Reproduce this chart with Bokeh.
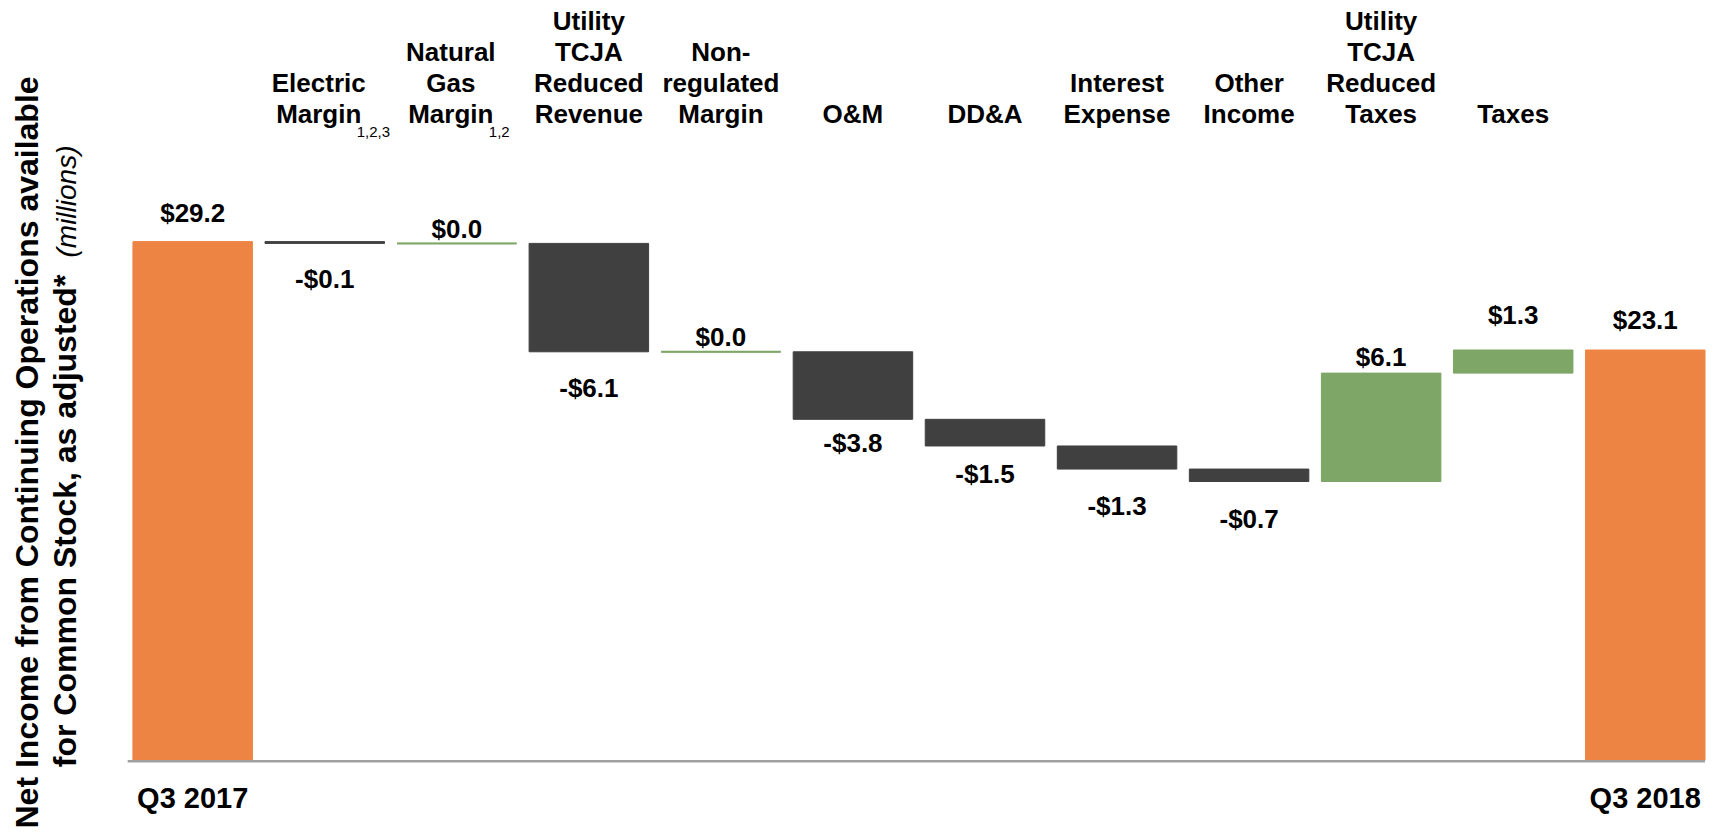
import math
from bokeh.plotting import figure
from bokeh.models import ColumnDataSource, Range1d
from bokeh.core.properties import value
from bokeh.embed import file_html
from bokeh.resources import INLINE

# ---------------- data ----------------
categories = ["Q3 2017", "Electric\nMargin", "Natural\nGas\nMargin",
              "Utility\nTCJA\nReduced\nRevenue", "Non-\nregulated\nMargin",
              "O&M", "DD&A", "Interest\nExpense", "Other\nIncome",
              "Utility\nTCJA\nReduced\nTaxes", "Taxes", "Q3 2018"]
changes = [29.2, -0.1, 0.0, -6.1, 0.0, -3.8, -1.5, -1.3, -0.7, 6.1, 1.3, 23.1]
is_total = [True, False, False, False, False, False, False, False, False, False, False, True]
footnotes = ["", "1,2,3", "1,2", "", "", "", "", "", "", "", "", ""]
y_title_lines = ["Net Income from Continuing Operations available",
                 "for Common Stock, as adjusted*"]
y_unit = "(millions)"

# ---------------- layout / style ----------------
W, H = 1710, 830
PPX = 132.05            # px per category
PPU = 17.77             # px per $ million
X0 = -192.2 / PPX
X1 = X0 + W / PPX
BASE_PX = 760           # px of the zero line (from top)
Y0 = -(H - BASE_PX) / PPU
Y1 = BASE_PX / PPU
BAR_W = 0.905
label_gap_px = [19, 45, 5.5, 46, 5, 33, 37, 46, 47, 6.6, 26, 21]
FOOTNOTE_LABEL_SHIFT_PX = 6

VAL_FS, CAT_FS, TOT_FS, SUP_FS, TITLE_FS, UNIT_FS = 26, 26, 29, 15, 32, 28
CAP_MID = 0.358         # cap-height centre above baseline, in em

ORANGE = "#EE8443"
GREEN = "#7EA667"
DARK = "#404040"
AXIS = "#A0A0A0"
FONT = value("Liberation Sans")


def ydata(px_from_top):
    return (BASE_PX - px_from_top) / PPU


def xdata(px_from_left):
    return X0 + px_from_left / PPX


p = figure(width=W, height=H, x_range=Range1d(X0, X1), y_range=Range1d(Y0, Y1),
           output_backend="svg", toolbar_location=None,
           x_axis_location=None, y_axis_location=None, min_border=0)
p.grid.visible = False
p.outline_line_color = None
p.background_fill_color = "white"
p.border_fill_color = "white"

# ---------------- waterfall geometry ----------------
xs = list(range(len(categories)))
bottoms, tops, colors, lab_y, lab_txt = [], [], [], [], []
running = 0.0
for i, v in enumerate(changes):
    if is_total[i]:
        b, t = 0.0, v
        running = v
        c = ORANGE
    else:
        start = running
        end = running + v
        running = end
        b, t = min(start, end), max(start, end)
        c = GREEN if v >= 0 else DARK
    bottoms.append(b)
    tops.append(t)
    colors.append(c)
    lab_txt.append(("-$%.1f" % abs(v)) if v < 0 else ("$%.1f" % v))
    shift = CAP_MID * VAL_FS
    if v >= 0:
        lab_y.append(t + (label_gap_px[i] + shift) / PPU)
    else:
        lab_y.append(b - (label_gap_px[i] - shift) / PPU)

bars = ColumnDataSource(dict(
    left=[x - BAR_W / 2 for x in xs], right=[x + BAR_W / 2 for x in xs],
    bottom=bottoms, top=tops, color=colors))
p.quad(left="left", right="right", bottom="bottom", top="top", source=bars,
       fill_color="color", line_color="color", line_width=1)

# zero-size changes drawn as thin lines
zx0, zx1, zy, zc = [], [], [], []
for i in xs:
    if abs(tops[i] - bottoms[i]) < 1e-9:
        zx0.append(i - BAR_W / 2)
        zx1.append(i + BAR_W / 2)
        zy.append(tops[i])
        zc.append(colors[i])
p.segment(x0=zx0, x1=zx1, y0=zy, y1=zy, line_color=zc, line_width=2)

# baseline axis line
p.segment(x0=[xs[0] - BAR_W / 2 - 0.04], x1=[xs[-1] + BAR_W / 2],
          y0=[-0.04], y1=[-0.04], line_color=AXIS, line_width=2.5)

# value labels
p.text(x=xs, y=lab_y, text=lab_txt, text_font=FONT, text_font_style="bold",
       text_font_size="%dpx" % VAL_FS, text_align="center", text_baseline="middle",
       text_color="black")

# category labels above the chart (bottom-aligned, one glyph per line)
cx, cy, ct = [], [], []
for i, lab in enumerate(categories):
    if is_total[i]:
        continue
    lines = lab.split("\n")
    n = len(lines)
    dx = -FOOTNOTE_LABEL_SHIFT_PX / PPX if footnotes[i] else 0.0
    for k, line in enumerate(lines):
        from_bottom = n - 1 - k
        cx.append(xs[i] + dx)
        cy.append(ydata(122.7 - CAP_MID * CAT_FS - 31 * from_bottom))
        ct.append(line)
p.text(x=cx, y=cy, text=ct, text_font=FONT, text_font_style="bold",
       text_font_size="%dpx" % CAT_FS, text_align="center", text_baseline="middle",
       text_color="black")

# footnote superscripts
fx, fy, ft = [], [], []
for i, f in enumerate(footnotes):
    if f:
        fx.append(xs[i] + 32 / PPX)
        fy.append(ydata(136.7 - CAP_MID * SUP_FS))
        ft.append(f)
p.text(x=fx, y=fy, text=ft, text_font=FONT, text_font_size="%dpx" % SUP_FS,
       text_align="left", text_baseline="middle", text_color="black")

# total labels below the axis
tx = [xs[i] for i in xs if is_total[i]]
tt = [categories[i] for i in xs if is_total[i]]
p.text(x=tx, y=[ydata(807.7 - CAP_MID * TOT_FS)] * len(tx), text=tt, text_font=FONT,
       text_font_style="bold", text_font_size="%dpx" % TOT_FS, text_align="center",
       text_baseline="middle", text_color="black")

# rotated y title
p.text(x=[xdata(26.5), xdata(64)], y=[ydata(828), ydata(766.7)], text=y_title_lines,
       angle=math.pi / 2, text_font=FONT, text_font_style="bold",
       text_font_size="%dpx" % TITLE_FS, text_align="left", text_baseline="middle",
       text_color="black")
p.text(x=[xdata(66)], y=[ydata(257)], text=[y_unit], angle=math.pi / 2,
       text_font=FONT, text_font_style="italic", text_font_size="%dpx" % UNIT_FS,
       text_align="left", text_baseline="middle", text_color="black")

open("out.html", "w").write(file_html(p, INLINE))
